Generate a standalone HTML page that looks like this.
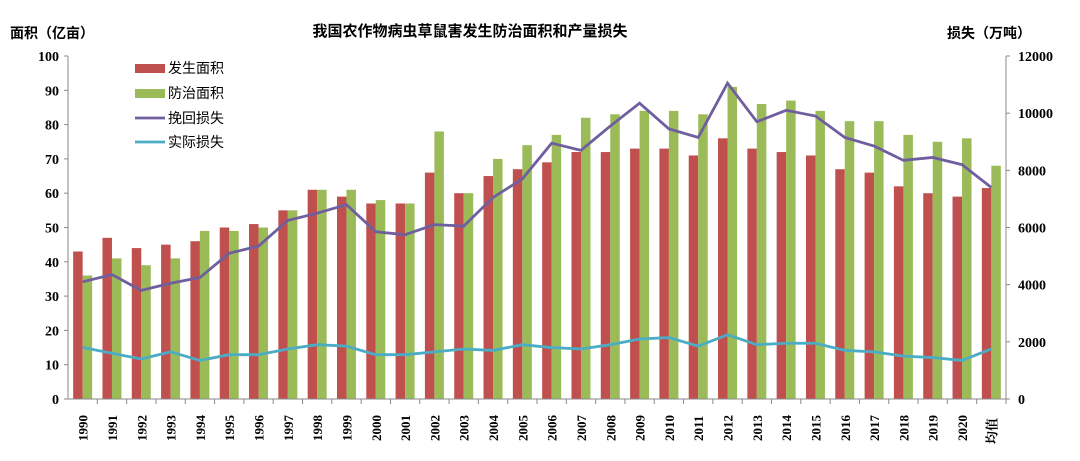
<!DOCTYPE html>
<html><head><meta charset="utf-8"><style>
body{margin:0;background:#fff;}
svg text{font-family:"Liberation Sans","Noto Sans CJK SC",sans-serif;fill:#000;}
svg text.tick{font-family:"Liberation Serif","Noto Serif CJK SC",serif;font-weight:bold;}
</style></head><body>
<svg id="chart" width="1080" height="456" xmlns="http://www.w3.org/2000/svg">
<text x="470" y="36" font-size="15" font-weight="bold" text-anchor="middle">我国农作物病虫草鼠害发生防治面积和产量损失</text>
<text x="10" y="38" font-size="14" font-weight="bold">面积（亿亩）</text>
<text x="947" y="38" font-size="14" font-weight="bold">损失（万吨）</text>
<g id="bars"></g><g id="lines"></g><g id="axes"></g>
<g>
<rect x="135" y="64" width="30" height="9" fill="#c0504d"/><text x="168" y="73" font-size="14">发生面积</text>
<rect x="135" y="89" width="30" height="9" fill="#9bbb59"/><text x="168" y="98" font-size="14">防治面积</text>
<line x1="135" y1="118" x2="165" y2="118" stroke="#6f5f9f" stroke-width="2.8"/><text x="168" y="123" font-size="14">挽回损失</text>
<line x1="135" y1="142" x2="165" y2="142" stroke="#4bacc6" stroke-width="2.8"/><text x="168" y="147" font-size="14">实际损失</text>
</g>
</svg>
<script>
const categories=["1990","1991","1992","1993","1994","1995","1996","1997","1998","1999","2000","2001","2002","2003","2004","2005","2006","2007","2008","2009","2010","2011","2012","2013","2014","2015","2016","2017","2018","2019","2020","均值"];
const occurArea=[43,47,44,45,46,50,51,55,61,59,57,57,66,60,65,67,69,72,72,73,73,71,76,73,72,71,67,66,62,60,59,61.5];
const controlArea=[36,41,39,41,49,49,50,55,61,61,58,57,78,60,70,74,77,82,83,84,84,83,91,86,87,84,81,81,77,75,76,68];
const recoveredLoss=[4100,4350,3800,4050,4250,5100,5350,6250,6500,6800,5850,5750,6100,6050,7050,7700,8950,8700,9550,10350,9450,9150,11050,9700,10100,9900,9150,8850,8350,8450,8200,7400];
const actualLoss=[1800,1600,1400,1650,1350,1550,1550,1750,1900,1850,1550,1550,1650,1750,1700,1900,1800,1750,1900,2100,2150,1850,2250,1900,1950,1950,1700,1650,1500,1450,1350,1750];
const leftTicks=[0,10,20,30,40,50,60,70,80,90,100];
const rightTicks=[0,2000,4000,6000,8000,10000,12000];
const NS="http://www.w3.org/2000/svg";
const X0=68,X1=1006,Y0=399,Y1=56;
const bw=(X1-X0)/categories.length;
const xc=i=>X0+bw*(i+0.5);
const yL=v=>Y0-(v/100)*(Y0-Y1);
const yR=v=>Y0-(v/12000)*(Y0-Y1);
function mk(tag,attrs,parent){const e=document.createElementNS(NS,tag);for(const k in attrs)e.setAttribute(k,attrs[k]);parent.appendChild(e);return e;}
const bars=document.getElementById('bars'),lines=document.getElementById('lines'),axes=document.getElementById('axes');
categories.forEach((c,i)=>{
  const r=mk('rect',{x:xc(i)-9.5,y:yL(occurArea[i]),width:9.5,height:Y0-yL(occurArea[i]),fill:'#c0504d'},bars);
  
  
  const g=mk('rect',{x:xc(i),y:yL(controlArea[i]),width:9.5,height:Y0-yL(controlArea[i]),fill:'#9bbb59'},bars);
  
  
  const t=mk('text',{class:'tick',transform:`translate(${xc(i)+5},${c==='均值'?444:441}) rotate(-90)`,'font-size':'13'},axes);
  t.textContent=c;
  
  
  mk('line',{x1:X0+bw*(i+1),x2:X0+bw*(i+1),y1:Y0,y2:Y0+5,stroke:'#888'},axes);
});
const l1=mk('polyline',{points:recoveredLoss.map((v,i)=>xc(i)+','+yR(v)).join(' '),fill:'none',stroke:'#6f5f9f','stroke-width':2.8},lines);


const l2=mk('polyline',{points:actualLoss.map((v,i)=>xc(i)+','+yR(v)).join(' '),fill:'none',stroke:'#4bacc6','stroke-width':2.8},lines);


mk('line',{x1:X0,x2:X0,y1:Y1,y2:Y0,stroke:'#888'},axes);
mk('line',{x1:X1,x2:X1,y1:Y1,y2:Y0,stroke:'#888'},axes);
mk('line',{x1:X0,x2:X1,y1:Y0,y2:Y0,stroke:'#888'},axes);
leftTicks.forEach(v=>{
  mk('line',{x1:X0-4,x2:X0,y1:yL(v),y2:yL(v),stroke:'#888'},axes);
  const t=mk('text',{class:'tick',x:X0-9,y:yL(v)+5,'font-size':'14','text-anchor':'end'},axes);
  t.textContent=v;
  
  
});
rightTicks.forEach(v=>{
  mk('line',{x1:X1,x2:X1+4,y1:yR(v),y2:yR(v),stroke:'#888'},axes);
  const t=mk('text',{class:'tick',x:X1+12,y:yR(v)+5,'font-size':'14'},axes);
  t.textContent=v;
  
  
});
</script>
</body></html>
